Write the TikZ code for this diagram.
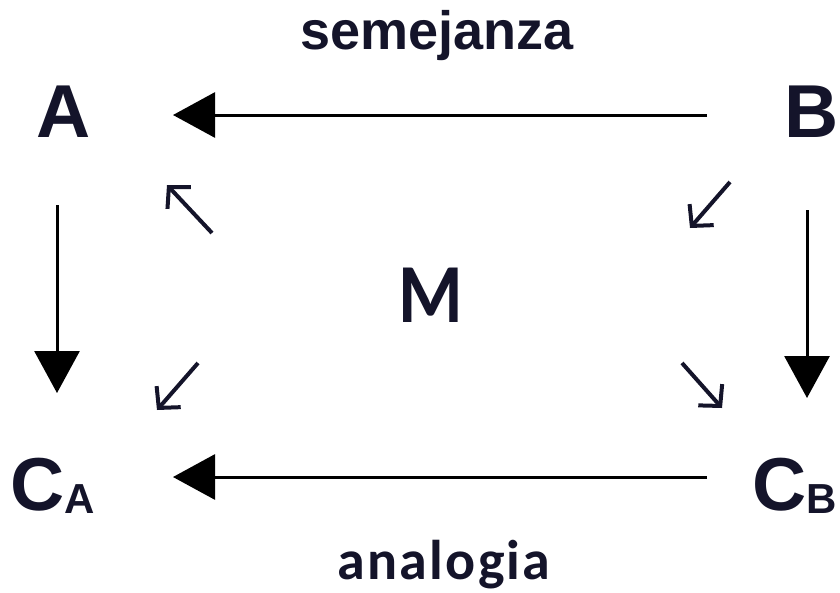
\documentclass[tikz,border=0pt]{standalone}
\usepackage{fontspec}
\setmainfont{Liberation Sans}
\newfontfamily\calib{Carlito}
\newfontfamily\spacedcalib{Carlito}[LetterSpace=4]
\usetikzlibrary{arrows.meta,calc}
\definecolor{ink}{HTML}{14142A}
\begin{document}
\begin{tikzpicture}[x=1pt,y=-1pt,
  letter/.style={inner sep=0pt, anchor=base, text=ink,
    font=\bfseries\fontsize{75}{80}\selectfont},
  corner/.style={letter, anchor=base west},
  caption/.style={inner sep=0pt, anchor=base, text=ink},
  main/.style={line width=3pt, draw=black,
    -{Triangle[length=42pt,width=45pt]}},
  hint/.style={line width=4pt, draw=ink,
    -{Straight Barb[length=15pt,width=32pt]}}]
\useasboundingbox (0,0) rectangle (840,592);

% corner letters
\node[letter] (A) at (64,137) {A};
\node[letter] (B) at (812,137) {B};
\node[corner] (CA) at (10,510) {C\raisebox{-3pt}{\fontsize{42}{44}\selectfont A}};
\node[corner] (CB) at (752,510) {C\raisebox{-3pt}{\fontsize{42}{44}\selectfont B}};
\node[letter, font=\calib\bfseries\fontsize{84}{88}\selectfont] (M) at (431,322)
  {\scalebox{0.88}[1]{M}};

% captions
\node[caption, font=\bfseries\fontsize{54}{58}\selectfont] (sem) at (437,49) {semejanza};
\node[caption, font=\spacedcalib\bfseries\fontsize{56}{60}\selectfont] (ana) at (444,579) {analogia};

% main arrows
\draw[main] ([shift={(-105,-22)}]B.base) -- ([shift={(109,-22)}]A.base);
\draw[main] ([shift={(-45,-33)}]CB.base west) -- ([shift={(163,-33)}]CA.base west);
\draw[main] ([shift={(-7,68)}]A.base) -- ([shift={(47,-117)}]CA.base west);
\draw[main] ([shift={(-5,73)}]B.base) -- ([shift={(55,-112)}]CB.base west);

% small diagonal arrows around M
\draw[hint] ([shift={(148,96)}]A.base) -- ([shift={(103,48)}]A.base);
\draw[hint] ([shift={(-82,45)}]B.base) -- ([shift={(-122,91)}]B.base);
\draw[hint] ([shift={(188,-147)}]CA.base west) -- ([shift={(147,-100)}]CA.base west);
\draw[hint] ([shift={(-70,-147)}]CB.base west) -- ([shift={(-30,-102)}]CB.base west);
\end{tikzpicture}
\end{document}
